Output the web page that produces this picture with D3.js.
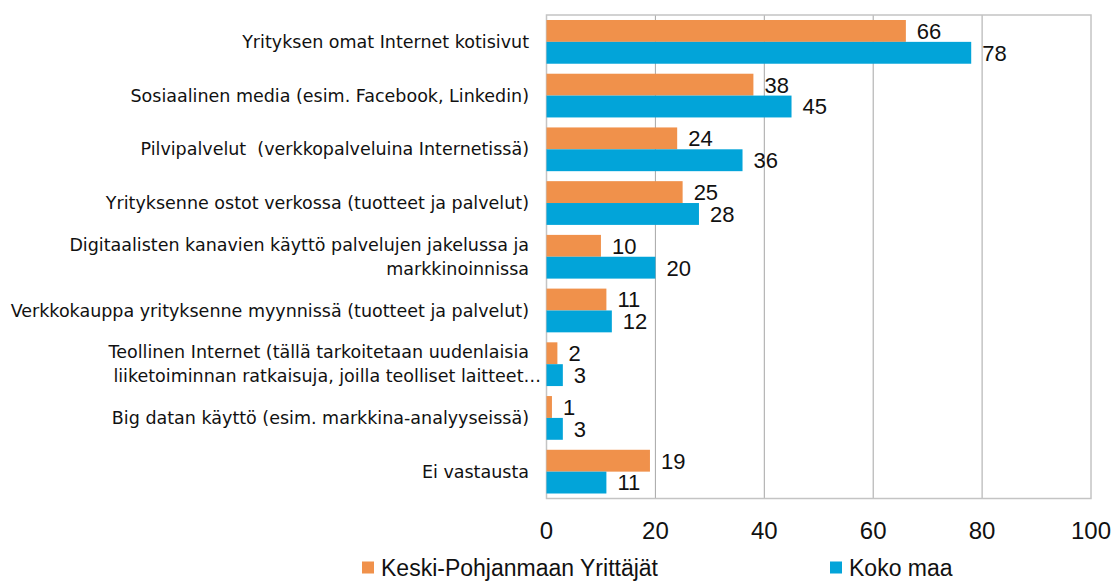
<!DOCTYPE html>
<html>
<head>
<meta charset="utf-8">
<script src="https://cdn.jsdelivr.net/npm/d3@7"></script>
<style>
  body { margin: 0; background: #fff; }
  svg { display: block; }
  text { font-family: "Liberation Sans", Arial, sans-serif; fill: #111; }
  text.cat { font-family: "DejaVu Sans", Verdana, sans-serif; white-space: pre; }
</style>
</head>
<body>
<div id="chart"></div>
<script>
// categories (top to bottom), lines split the way the reference wraps them
const categories = [
  ["Yrityksen omat Internet kotisivut"],
  ["Sosiaalinen media (esim. Facebook, Linkedin)"],
  ["Pilvipalvelut  (verkkopalveluina Internetissä)"],
  ["Yrityksenne ostot verkossa (tuotteet ja palvelut)"],
  ["Digitaalisten kanavien käyttö palvelujen jakelussa ja", "markkinoinnissa"],
  ["Verkkokauppa yrityksenne myynnissä (tuotteet ja palvelut)"],
  ["Teollinen Internet (tällä tarkoitetaan uudenlaisia", "liiketoiminnan ratkaisuja, joilla teolliset laitteet…"],
  ["Big datan käyttö (esim. markkina-analyyseissä)"],
  ["Ei vastausta"]
];
const seriesNames = ["Keski-Pohjanmaan Yrittäjät", "Koko maa"];
const keskiPohjanmaa = [66, 38, 24, 25, 10, 11, 2, 1, 19];
const kokoMaa = [78, 45, 36, 28, 20, 12, 3, 3, 11];
const xTicks = [0, 20, 40, 60, 80, 100];

const colors = ["#F0914B", "#02A4D9"];
const width = 1112, height = 581;
const plot = { left: 546.5, right: 1091, top: 15, bottom: 498.5 };

const svg = d3.select("#chart").append("svg")
  .attr("width", width)
  .attr("height", height);

const x = d3.scaleLinear().domain([0, 100]).range([plot.left, plot.right]);
const y = d3.scaleBand()
  .domain(d3.range(categories.length))
  .range([plot.top, plot.bottom])
  .paddingInner(0.186)
  .paddingOuter(0.093);
const ySub = d3.scaleBand().domain([0, 1]).range([0, y.bandwidth()]);

// grid lines
svg.append("g")
  .selectAll("line")
  .data(xTicks.slice(1, -1))
  .join("line")
  .attr("x1", d => x(d)).attr("x2", d => x(d))
  .attr("y1", plot.top).attr("y2", plot.bottom)
  .attr("stroke", "#a6a6a6")
  .attr("stroke-width", 1);

// plot border
svg.append("rect")
  .attr("x", plot.left).attr("y", plot.top)
  .attr("width", plot.right - plot.left)
  .attr("height", plot.bottom - plot.top)
  .attr("fill", "none")
  .attr("stroke", "#c4c4c4")
  .attr("stroke-width", 1.5);

const rows = categories.map((c, i) => ({ i, values: [keskiPohjanmaa[i], kokoMaa[i]] }));

const groups = svg.append("g")
  .selectAll("g")
  .data(rows)
  .join("g")
  .attr("transform", d => `translate(0,${y(d.i)})`);

groups.selectAll("rect")
  .data(d => d.values.map((v, s) => ({ v, s })))
  .join("rect")
  .attr("x", x(0))
  .attr("y", d => ySub(d.s))
  .attr("width", d => x(d.v) - x(0))
  .attr("height", ySub.bandwidth())
  .attr("fill", d => colors[d.s]);

groups.selectAll("text.val")
  .data(d => d.values.map((v, s) => ({ v, s })))
  .join("text")
  .attr("class", "val")
  .attr("x", d => x(d.v) + 11)
  .attr("y", d => ySub(d.s) + ySub.bandwidth() / 2)
  .attr("dy", "0.36em")
  .attr("font-size", 22)
  .text(d => d.v);

// category labels
const labelX = 529;
const lineH = 24;
const catSize = 17.5;
const catLabels = svg.append("g")
  .selectAll("text")
  .data(categories.map((lines, i) => ({ lines, i })))
  .join("text")
  .attr("class", "cat")
  .attr("text-anchor", "end")
  .attr("font-size", catSize)
  .attr("y", d => y(d.i) + y.bandwidth() / 2);

catLabels.selectAll("tspan")
  .data(d => d.lines.map((t, k) => ({ t, k, n: d.lines.length })))
  .join("tspan")
  .attr("x", d => d.t.endsWith("…") ? labelX + 12 : labelX)
  .attr("dy", d => d.k === 0 ? `${0.35 * catSize - (d.n - 1) * lineH / 2}px` : `${lineH}px`)
  .text(d => d.t);

// x axis labels
svg.append("g")
  .selectAll("text")
  .data(xTicks)
  .join("text")
  .attr("x", d => x(d))
  .attr("y", 530)
  .attr("dy", "0.36em")
  .attr("text-anchor", "middle")
  .attr("font-size", 24)
  .text(d => d);

// legend
const legendX = [362, 830];
const legend = svg.append("g")
  .selectAll("g")
  .data(seriesNames)
  .join("g")
  .attr("transform", (d, i) => `translate(${legendX[i]},561.5)`);

legend.append("rect")
  .attr("width", 12).attr("height", 12)
  .attr("fill", (d, i) => colors[i]);

legend.append("text")
  .attr("x", 19)
  .attr("y", 6)
  .attr("dy", "0.36em")
  .attr("font-size", 23)
  .text(d => d);
</script>
</body>
</html>
